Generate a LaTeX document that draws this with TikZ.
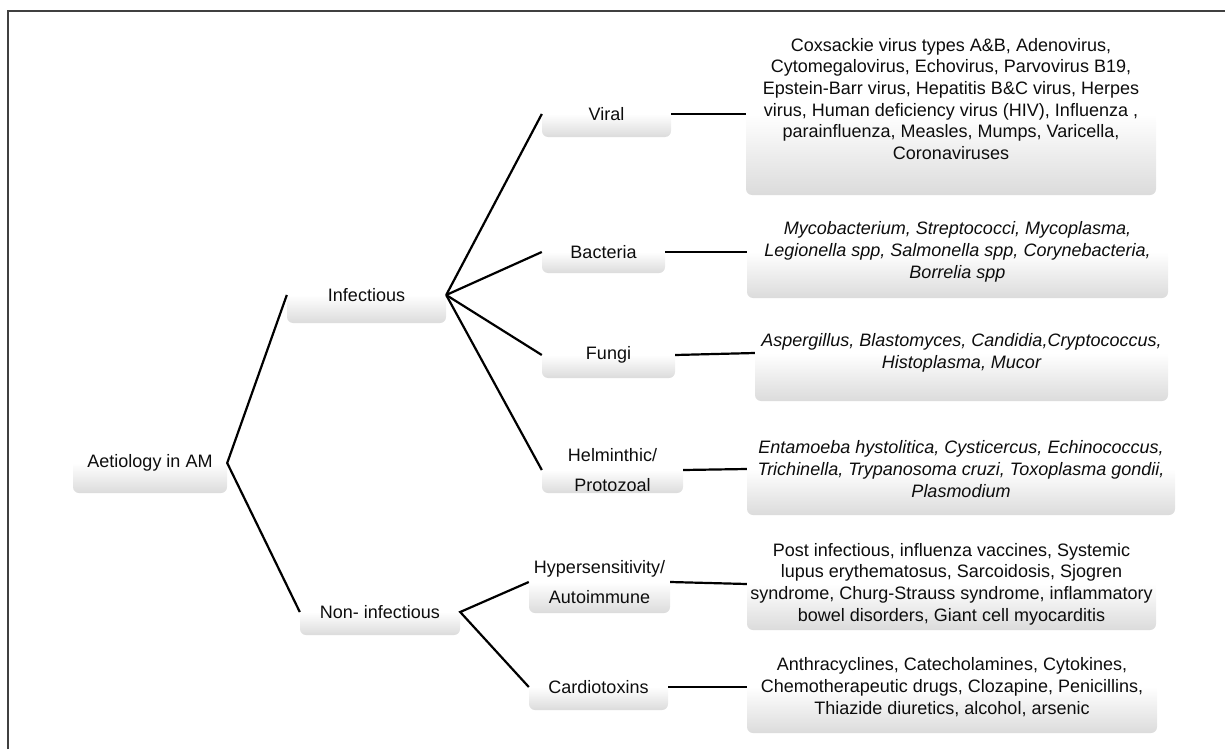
\documentclass[tikz,border=0pt]{standalone}
\usepackage{fontspec}
\setmainfont{Liberation Sans}
\begin{document}
\begin{tikzpicture}[x=1pt,y=-1pt,
  box/.style={shape=rectangle, rounded corners=6pt, top color=white, bottom color=black!14, middle color=white,
    inner sep=0pt, align=center, text=black!95, font=\fontsize{18}{21.7}\selectfont},
  itbox/.style={box, font=\fontsize{18}{21.7}\selectfont\itshape},
  twobox/.style={box, font=\fontsize{18}{30.5}\selectfont},
  txt/.style={inner sep=0pt, align=center, text=black!95, font=\fontsize{18}{21.7}\selectfont},
  conn/.style={line width=2.2pt, black},
  frame/.style={line width=1.5pt, black!75}]
\useasboundingbox (0,0) rectangle (1225,749);
\draw[frame] (8,749) -- (8,11) -- (1225,11);

% level 0/1
\node[box, minimum width=154, minimum height=60] (root) at (150,463) {Aetiology in AM};
\node[box, minimum width=159, minimum height=56] (inf) at (366.5,295) {Infectious};
\node[box, minimum width=160, minimum height=46] (non) at (380,612) {Non- infectious};

% level 2
\node[box, minimum width=129, minimum height=46] (vir) at (606.5,114) {Viral};
\node[box, minimum width=123, minimum height=42] (bac) at (603.5,252) {Bacteria};
\node[box, minimum width=133, minimum height=46] (fun) at (608.5,355) {Fungi};
\node[twobox, minimum width=141, minimum height=46] (hel) at (612.5,470) {Helminthic/\\Protozoal};
\node[twobox, minimum width=141, minimum height=62] (hyp) at (599.5,582) {Hypersensitivity/\\Autoimmune};
\node[box, minimum width=139, minimum height=46] (car) at (598.5,687) {Cardiotoxins};

% details
\node[box, minimum width=410, minimum height=162] (vd) at (951,114) {};
\node[txt] (vdt) at (951,99) {Coxsackie virus types A\&B, Adenovirus,\\Cytomegalovirus, Echovirus, Parvovirus B19,\\Epstein-Barr virus, Hepatitis B\&C virus, Herpes\\virus, Human deficiency virus (HIV), Influenza ,\\parainfluenza, Measles, Mumps, Varicella,\\Coronaviruses};
\node[itbox, minimum width=421, minimum height=92] (bd) at (957.5,252) {Mycobacterium, Streptococci, Mycoplasma,\\Legionella spp, Salmonella spp, Corynebacteria,\\Borrelia spp};
\node[itbox, minimum width=413, minimum height=96] (fd) at (961.5,353) {Aspergillus, Blastomyces, Candidia,Cryptococcus,\\Histoplasma, Mucor};
\node[itbox, minimum width=428, minimum height=92] (hd) at (961,469) {Entamoeba hystolitica, Cysticercus, Echinococcus,\\Trichinella, Trypanosoma cruzi, Toxoplasma gondii,\\Plasmodium};
\node[box, minimum width=409, minimum height=92] (yd) at (951.5,584) {Post infectious, influenza vaccines, Systemic\\lupus erythematosus, Sarcoidosis, Sjogren\\syndrome, Churg-Strauss syndrome, inflammatory\\bowel disorders, Giant cell myocarditis};
\node[box, minimum width=410, minimum height=92] (cd) at (952,687) {Anthracyclines, Catecholamines, Cytokines,\\Chemotherapeutic drugs, Clozapine, Penicillins,\\Thiazide diuretics, alcohol, arsenic};

% connectors
\draw[conn] (inf.west) -- (root.east) -- (non.west);
\draw[conn] (inf.east) -- (vir.west);
\draw[conn] (inf.east) -- (bac.west);
\draw[conn] (inf.east) -- (fun.west);
\draw[conn] (inf.east) -- (hel.west);
\draw[conn] (hyp.west) -- (non.east) -- (car.west);
\draw[conn] (vir.east) -- (vd.west);
\draw[conn] (bac.east) -- (bd.west);
\draw[conn] (fun.east) -- (fd.west);
\draw[conn] (hel.east) -- (hd.west);
\draw[conn] (hyp.east) -- (yd.west);
\draw[conn] (car.east) -- (cd.west);
\end{tikzpicture}
\end{document}
